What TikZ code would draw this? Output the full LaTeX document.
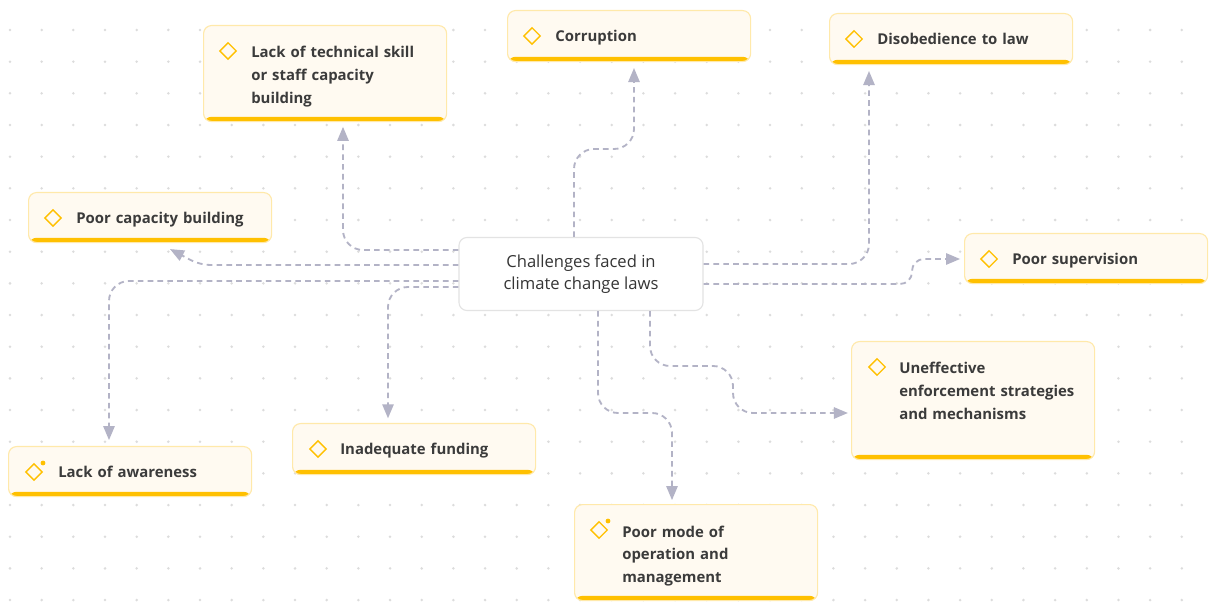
\documentclass[tikz,border=0pt]{standalone}
\usepackage{fontspec}
\setmainfont{Open Sans}
\usetikzlibrary{shapes,arrows,calc}
\definecolor{boxfill}{HTML}{FFFAF1}
\definecolor{boxline}{HTML}{FFE9AA}
\definecolor{barcol}{HTML}{FFC000}
\definecolor{linkcol}{HTML}{B3B3C6}
\definecolor{dotcol}{HTML}{DCDCDC}
\definecolor{txtcol}{HTML}{3B3B3B}
\definecolor{hubline}{HTML}{E3E3E3}

\begin{document}
\begin{tikzpicture}[x=0.025cm,y=-0.025cm,
	leaf/.style={draw=boxline,line width=0.8pt,fill=boxfill,rounded corners=0.2cm,minimum width=6.075cm,anchor=north west,inner sep=0pt,
		path picture={\fill[barcol] ([yshift=0.12cm]path picture bounding box.south west) rectangle (path picture bounding box.south east);}},
	icon/.style={diamond,draw=barcol,line width=0.9pt,inner sep=0pt,minimum size=0.42cm},
	leaftext/.style={anchor=base west,text width=5cm,align=left,inner sep=0pt,font=\bfseries\fontsize{10.6}{16.3}\selectfont,text=txtcol},
	hub/.style={draw=hubline,line width=0.8pt,fill=white,rounded corners=0.2cm,minimum width=6.1cm,minimum height=1.825cm,align=center,font=\fontsize{11.8}{15.8}\selectfont,text=txtcol!90!black},
	link/.style={draw=linkcol,line width=1.3pt,dash pattern=on 4pt off 3pt,-triangle 45,rounded corners=0.5cm}]
\useasboundingbox[fill=white] (0,0) rectangle (1210,602);
% dot grid
\foreach \i in {0,...,37}
	\foreach \j in {0,...,18}
		\fill[dotcol] (10+31.67*\i,30+31.67*\j) circle (0.035cm);

% boxes
\node[leaf,minimum height=2.4cm] (skill) at (203,25) {};%technical skill
\node[icon] (skillicon) at ($(skill.north west)+(25,26)$) {};
\node[leaftext] (skilltxt) at ($(skill.north west)+(48,33)$) {Lack of technical skill\\or staff capacity\\building};

\node[leaf,minimum height=1.275cm] (corrupt) at (507,10) {};%corruption
\node[icon] (corrupticon) at ($(corrupt.north west)+(25,26)$) {};
\node[leaftext] (corrupttxt) at ($(corrupt.north west)+(48,32)$) {Corruption};

\node[leaf,minimum height=1.275cm] (disobey) at (829,13) {};%disobedience
\node[icon] (disobeyicon) at ($(disobey.north west)+(25,26)$) {};
\node[leaftext] (disobeytxt) at ($(disobey.north west)+(48,32)$) {Disobedience to law};

\node[leaf,minimum height=1.25cm] (capacity) at (28,192) {};%capacity building
\node[icon] (capacityicon) at ($(capacity.north west)+(25,26)$) {};
\node[leaftext] (capacitytxt) at ($(capacity.north west)+(48,32)$) {Poor capacity building};

\node[leaf,minimum height=1.25cm] (superv) at (964,233) {};%supervision
\node[icon] (supervicon) at ($(superv.north west)+(25,26)$) {};
\node[leaftext] (supervtxt) at ($(superv.north west)+(48,32)$) {Poor supervision};

\node[leaf,minimum height=2.95cm] (enforce) at (851,341) {};%enforcement
\node[icon] (enforceicon) at ($(enforce.north west)+(26,26)$) {};
\node[leaftext] (enforcetxt) at ($(enforce.north west)+(48,33)$) {Uneffective\\enforcement strategies\\and mechanisms};

\node[leaf,minimum height=1.275cm] (funding) at (292,423) {};%funding
\node[icon] (fundingicon) at ($(funding.north west)+(26,26)$) {};
\node[leaftext] (fundingtxt) at ($(funding.north west)+(48,32)$) {Inadequate funding};

\node[leaf,minimum height=1.25cm] (aware) at (8,446) {};%awareness
\node[icon] (awareicon) at ($(aware.north west)+(26,26)$) {};
\fill[barcol] ($(awareicon)+(9,-9)$) circle (0.06cm);
\node[leaftext] (awaretxt) at ($(aware.north west)+(50,32)$) {Lack of awareness};

\node[leaf,minimum height=2.4cm] (opmode) at (574,504) {};%mode of operation
\node[icon] (opmodeicon) at ($(opmode.north west)+(25,26)$) {};
\fill[barcol] ($(opmodeicon)+(9,-9)$) circle (0.06cm);
\node[leaftext] (opmodetxt) at ($(opmode.north west)+(48,33)$) {Poor mode of\\operation and\\management};

\node[hub] (hub) at (581,274) {Challenges faced in\\climate change laws};

% links
\draw[link,shorten >=0.12cm] (hub.west |- 0,250) -- (343,250) -- (343,0 |- skill.south);
\draw[link,rounded corners=0.25cm] (hub.west |- 0,265) -- (200,265) -- ($(capacity.south)+(20,6)$);
\draw[link,shorten >=0.15cm] (hub.west |- 0,281) -- (109,281) -- (109,0 |- aware.north);
\draw[link,shorten >=0.12cm] (hub.west |- 0,287) -- (388,287) -- (388,0 |- funding.north);
\draw[link,shorten >=0.15cm] (574,0 |- hub.north) -- (574,149) -- (634,149) -- (634,0 |- corrupt.south);
\draw[link,shorten >=0.15cm] (hub.east |- 0,264) -- (869,264) -- (869,0 |- disobey.south);
\draw[link,rounded corners=0.3cm,shorten >=0.1cm] (hub.east |- 0,284) -- (912,284) -- (912,259) -- (superv.west |- 0,259);
\draw[link,shorten >=0.08cm] (650,0 |- hub.south) -- (650,366) -- (733,366) -- (733,413) -- (enforce.west |- 0,413);
\draw[link,shorten >=0.1cm] (598,0 |- hub.south) -- (598,413) -- (672,413) -- (672,0 |- opmode.north);
\end{tikzpicture}
\end{document}
